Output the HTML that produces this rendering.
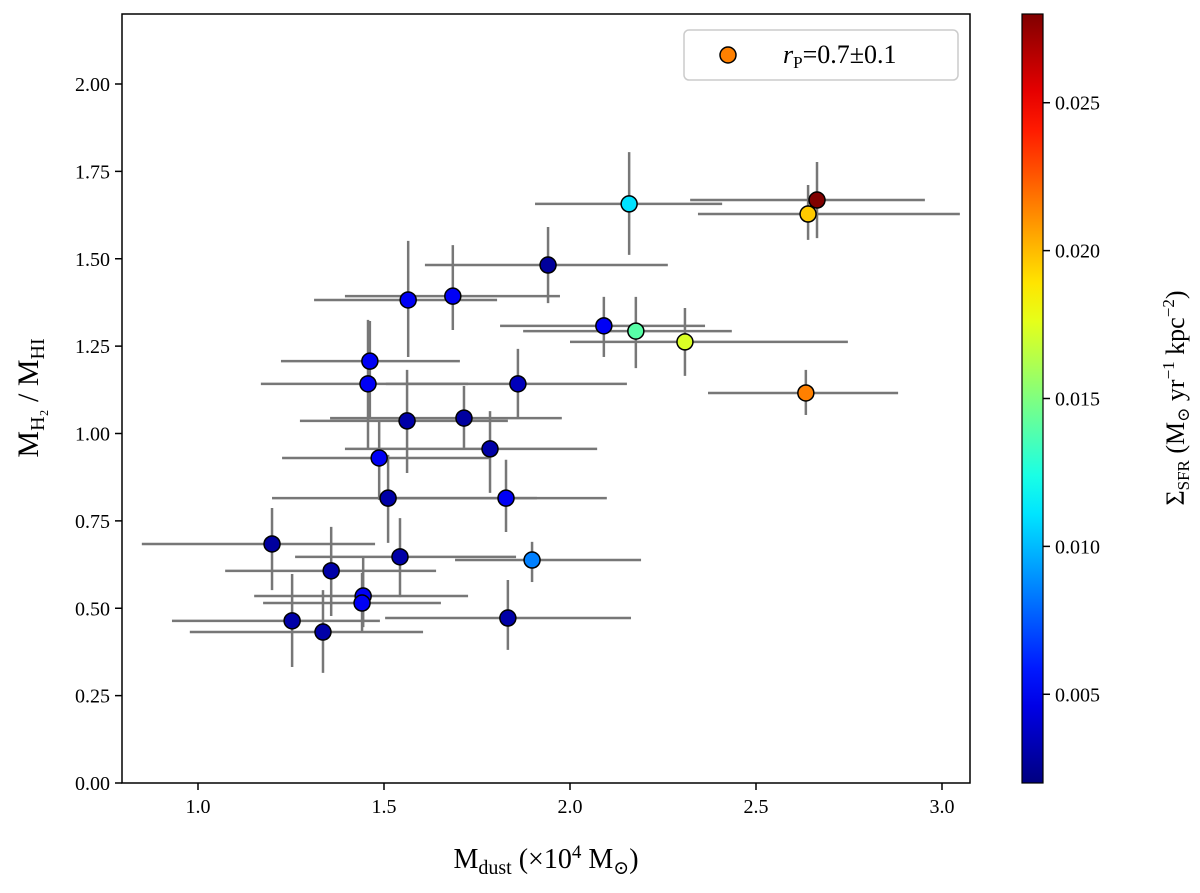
<!DOCTYPE html>
<html><head><meta charset="utf-8">
<style>
body{margin:0;background:#fff;}
svg{display:block;font-family:"Liberation Serif","DejaVu Serif",serif;}
</style></head>
<body>
<svg id="chart" width="1200" height="893" viewBox="0 0 1200 893" xmlns="http://www.w3.org/2000/svg">
<defs><linearGradient id="jet" x1="0" y1="1" x2="0" y2="0"></linearGradient></defs>
<g id="bars"></g><g id="pts"></g><g id="axes"></g>
</svg>
<script>
const mdust=[2.664,2.640,2.159,1.941,1.685,1.565,2.091,2.177,2.309,2.634,1.462,1.860,1.457,1.715,1.562,1.785,1.487,1.511,1.828,1.898,1.199,1.543,1.358,1.444,1.441,1.253,1.336,1.833];
const mdustLo=[2.323,2.344,1.906,1.610,1.395,1.312,1.812,1.874,2.000,2.371,1.223,1.505,1.169,1.355,1.274,1.395,1.226,1.199,1.503,1.691,0.849,1.261,1.073,1.151,1.175,0.930,0.978,1.503];
const mdustHi=[2.954,3.048,2.409,2.263,1.973,1.804,2.363,2.435,2.747,2.882,1.704,2.153,1.726,1.978,1.833,2.073,1.782,1.911,2.099,2.191,1.476,1.855,1.640,1.726,1.653,1.489,1.605,2.164];
const ratio=[1.668,1.628,1.657,1.482,1.393,1.382,1.308,1.293,1.262,1.116,1.207,1.142,1.142,1.044,1.036,0.956,0.930,0.815,0.815,0.638,0.684,0.647,0.607,0.535,0.515,0.464,0.432,0.472];
const ratioHi=[1.777,1.711,1.805,1.591,1.539,1.551,1.391,1.391,1.359,1.182,1.322,1.242,1.325,1.136,1.182,1.064,1.036,0.939,0.925,0.690,0.787,0.758,0.733,0.644,0.601,0.598,0.552,0.581];
const ratioLo=[1.559,1.554,1.511,1.373,1.296,1.219,1.219,1.187,1.165,1.053,1.041,1.044,0.953,0.959,0.887,0.830,0.810,0.687,0.718,0.575,0.552,0.532,0.478,0.446,0.435,0.332,0.315,0.381];
const sfr=[0.028,0.0196,0.011,0.0027,0.005,0.005,0.005,0.014,0.0173,0.0215,0.005,0.0035,0.005,0.0028,0.003,0.003,0.005,0.003,0.005,0.0085,0.0028,0.003,0.003,0.005,0.005,0.003,0.003,0.003];
const xTicks=[1.0,1.5,2.0,2.5,3.0];
const yTicks=[0,0.25,0.5,0.75,1.0,1.25,1.5,1.75,2.0];
const cTicks=[0.005,0.010,0.015,0.020,0.025];
const L=122,R=970,T=14,B=783;
const X=v=>198+(v-1)*372;
const Y=v=>783-v*349.5;
const CMIN=0.002,CMAX=0.028,CX=1022,CW=21;
const CY=v=>B-(v-CMIN)/(CMAX-CMIN)*(B-T);
const NS="http://www.w3.org/2000/svg";
function jet(t){const c=x=>Math.round(255*Math.max(0,Math.min(1,x)));
 return `rgb(${c(1.5-Math.abs(4*t-3))},${c(1.5-Math.abs(4*t-2))},${c(1.5-Math.abs(4*t-1))})`;}
function mk(tag,attrs,parent,txt){const e=document.createElementNS(NS,tag);for(const k in attrs)e.setAttribute(k,attrs[k]);if(txt!==undefined)e.textContent=txt;parent.appendChild(e);return e;}
const grad=document.getElementById('jet');
for(let i=0;i<=20;i++)mk('stop',{offset:i/20,'stop-color':jet(i/20)},grad);
const bars=document.getElementById('bars'),pts=document.getElementById('pts'),axes=document.getElementById('axes');
for(let i=0;i<mdust.length;i++){
 const h=mk('line',{x1:X(mdustLo[i]),x2:X(mdustHi[i]),y1:Y(ratio[i]),y2:Y(ratio[i]),stroke:'#777','stroke-width':2.5},bars);
 
 
 const v=mk('line',{x1:X(mdust[i]),x2:X(mdust[i]),y1:Y(ratioLo[i]),y2:Y(ratioHi[i]),stroke:'#777','stroke-width':2.5},bars);
 
 
}
for(let i=0;i<mdust.length;i++){
 const c=mk('circle',{cx:X(mdust[i]),cy:Y(ratio[i]),r:8,fill:jet((sfr[i]-CMIN)/(CMAX-CMIN)),stroke:'#000','stroke-width':1.5},pts);
 
 
}
const fr=mk('rect',{x:L,y:T,width:R-L,height:B-T,fill:'none',stroke:'#000','stroke-width':1.5},axes);


xTicks.forEach(t=>{mk('line',{x1:X(t),x2:X(t),y1:B,y2:B+7,stroke:'#000','stroke-width':1.5},axes);
 const tx=mk('text',{x:X(t),y:B+30,'font-size':20,'text-anchor':'middle'},axes,t.toFixed(1));
 
 });
yTicks.forEach(t=>{mk('line',{x1:L-7,x2:L,y1:Y(t),y2:Y(t),stroke:'#000','stroke-width':1.5},axes);
 const tx=mk('text',{x:L-12,y:Y(t)+7,'font-size':20,'text-anchor':'end'},axes,t.toFixed(2));
 
 });
const cb=mk('rect',{x:CX,y:T,width:CW,height:B-T,fill:'url(#jet)',stroke:'#000','stroke-width':1.2},axes);


cTicks.forEach(t=>{mk('line',{x1:CX+CW,x2:CX+CW+7,y1:CY(t),y2:CY(t),stroke:'#000','stroke-width':1.5},axes);
 const tx=mk('text',{x:CX+CW+12,y:CY(t)+7,'font-size':20},axes,t.toFixed(3));
 
 });
</script>
<svg style="position:absolute;left:0;top:0" width="1200" height="893">
<g font-family="Liberation Serif, DejaVu Serif, serif">
<text x="546" y="868" font-size="28" text-anchor="middle">M<tspan font-size="20" dy="6">dust</tspan><tspan dy="-6"> (×10</tspan><tspan font-size="19" dy="-10">4</tspan><tspan dy="10"> M</tspan><tspan font-size="19" dy="6">⊙</tspan><tspan dy="-6">)</tspan></text>
<text transform="translate(38,398) rotate(-90)" font-size="30" text-anchor="middle">M<tspan font-size="20" dy="6">H₂</tspan><tspan dy="-6"> / M</tspan><tspan font-size="20" dy="6">HI</tspan></text>
<text transform="translate(1184,398) rotate(-90)" font-size="26" text-anchor="middle">Σ<tspan font-size="17" dy="5">SFR</tspan><tspan dy="-5"> (M</tspan><tspan font-size="17" dy="5">⊙</tspan><tspan dy="-5"> yr</tspan><tspan font-size="17" dy="-10">−1</tspan><tspan dy="10"> kpc</tspan><tspan font-size="17" dy="-10">−2</tspan><tspan dy="10">)</tspan></text>
<g>
<rect x="684" y="30" width="274" height="50" rx="5" fill="#fff" stroke="#ccc" stroke-width="1.5"/>
<circle cx="728" cy="55" r="8" fill="rgb(255,128,0)" stroke="#000" stroke-width="1.5"/>
<text x="783" y="63" font-size="26"><tspan font-style="italic">r</tspan><tspan font-size="17" dy="5">P</tspan><tspan dy="-5">=0.7±0.1</tspan></text>
</g>
</g></svg>
</body></html>
